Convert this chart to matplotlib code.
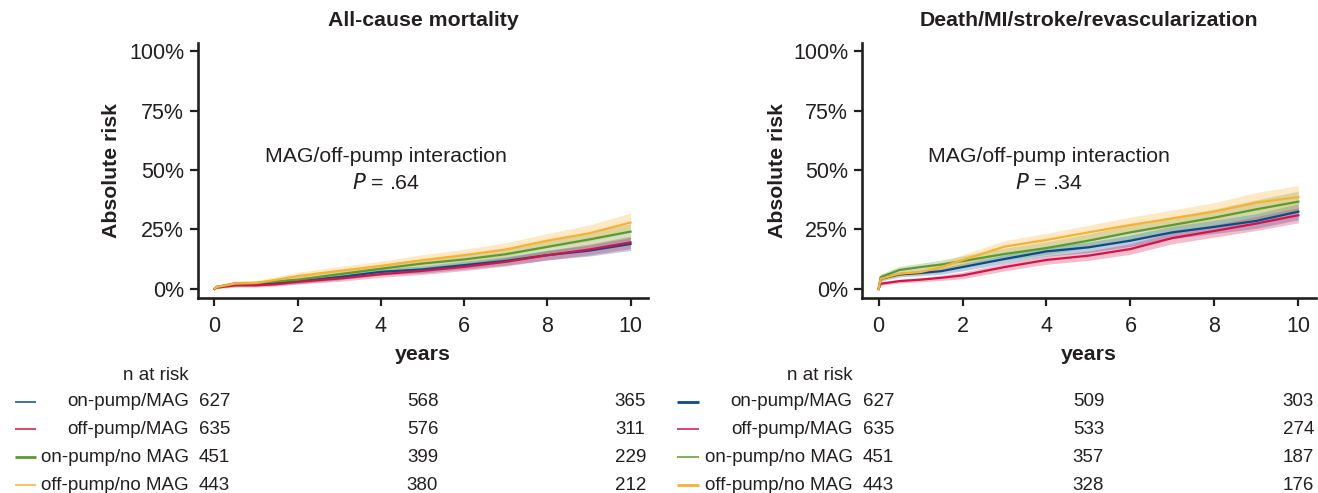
import matplotlib
matplotlib.use("Agg")
import matplotlib.pyplot as plt
import matplotlib.transforms as mtransforms
from matplotlib.lines import Line2D
import numpy as np

plt.rcParams['font.family'] = ['Liberation Sans', 'DejaVu Sans']

# ---------------- data ----------------
years = [0, 0.05, 0.5, 1, 1.5, 2, 3, 4, 5, 6, 7, 8, 9, 10]
groups = ["on-pump/MAG", "off-pump/MAG", "on-pump/no MAG", "off-pump/no MAG"]
colors = ["#0d4a8c", "#d41449", "#5a9a30", "#f8b133"]

# All-cause mortality (absolute risk, %)
mort_on_mag = [0, 0.8, 2.0, 2.0, 2.5, 3.2, 5.0, 7.2, 8.2, 10.0, 11.8, 14.2, 16.1, 18.9]
mort_off_mag = [0, 0.6, 1.5, 1.5, 2.0, 3.0, 4.4, 6.2, 7.6, 9.3, 11.4, 14.2, 16.6, 19.6]
mort_on_nomag = [0, 0.9, 2.3, 2.5, 3.2, 3.9, 6.2, 8.5, 10.7, 12.4, 14.6, 17.7, 20.8, 24.1]
mort_off_nomag = [0, 0.8, 2.3, 2.5, 3.9, 5.4, 7.6, 9.7, 12.1, 14.2, 16.6, 20.3, 23.4, 27.9]
# CI half-widths (%)
mort_ci_on_mag = [0, 0.5, 0.7, 0.7, 0.8, 1.0, 1.2, 1.4, 1.5, 1.7, 1.8, 2.0, 2.3, 2.7]
mort_ci_off_mag = [0, 0.5, 0.7, 0.7, 0.8, 1.0, 1.2, 1.3, 1.5, 1.6, 1.8, 2.0, 2.3, 2.6]
mort_ci_on_nomag = [0, 0.6, 0.9, 0.9, 1.1, 1.4, 1.6, 1.8, 2.0, 2.2, 2.4, 2.7, 3.0, 3.3]
mort_ci_off_nomag = [0, 0.6, 1.0, 1.0, 1.3, 1.6, 1.8, 2.0, 2.3, 2.5, 2.8, 3.0, 3.5, 4.0]

# Death/MI/stroke/revascularization (absolute risk, %)
mace_on_mag = [0, 4.3, 6.1, 6.7, 7.5, 9.2, 12.6, 15.8, 17.5, 20.3, 23.8, 26.1, 28.6, 32.5]
mace_off_mag = [0, 2.2, 3.3, 3.9, 4.7, 5.7, 9.2, 12.2, 14.0, 16.8, 21.4, 24.4, 27.5, 31.0]
mace_on_nomag = [0, 5.0, 8.0, 9.2, 10.3, 11.7, 14.7, 17.2, 20.3, 23.8, 26.9, 30.0, 33.5, 36.7]
mace_off_nomag = [0, 4.3, 6.4, 7.1, 9.2, 12.2, 17.8, 20.6, 23.8, 26.9, 29.7, 32.5, 36.3, 38.6]
mace_ci_on_mag = [0, 0.9, 1.0, 1.1, 1.3, 1.6, 1.8, 2.0, 2.2, 2.4, 2.6, 2.8, 3.1, 3.4]
mace_ci_off_mag = [0, 0.7, 0.8, 0.9, 1.1, 1.4, 1.6, 1.8, 2.0, 2.2, 2.4, 2.6, 2.9, 3.2]
mace_ci_on_nomag = [0, 1.3, 1.5, 1.6, 1.9, 2.2, 2.5, 2.7, 2.9, 3.1, 3.4, 3.6, 4.0, 4.4]
mace_ci_off_nomag = [0, 1.1, 1.2, 1.4, 1.8, 2.2, 2.5, 2.8, 3.0, 3.3, 3.5, 3.8, 4.3, 4.8]

# numbers at risk at years 0, 5, 10
risk_years = [0, 5, 10]
mort_at_risk = [[627, 568, 365], [635, 576, 311], [451, 399, 229], [443, 380, 212]]
mace_at_risk = [[627, 509, 303], [635, 533, 274], [451, 357, 187], [443, 328, 176]]

titles = ["All-cause mortality", "Death/MI/stroke/revascularization"]
p_texts = [".64", ".34"]
yticks = [0, 25, 50, 75, 100]
ytick_labels = ["0%", "25%", "50%", "75%", "100%"]
xticks = [0, 2, 4, 6, 8, 10]

# ---------------- figure ----------------
W, H = 1318, 493
fig = plt.figure(figsize=(W / 100, H / 100), dpi=100)


def fx(px):
    return px / W


def fy(py):
    return 1 - py / H


ax1 = fig.add_axes([fx(198), fy(298), fx(648) - fx(198), fy(43) - fy(298)])
ax2 = fig.add_axes([fx(862), fy(298), fx(1316) - fx(862), fy(43) - fy(298)])

panels = [
    (ax1, [mort_on_mag, mort_off_mag, mort_on_nomag, mort_off_nomag],
     [mort_ci_on_mag, mort_ci_off_mag, mort_ci_on_nomag, mort_ci_off_nomag],
     mort_at_risk, [1.1, 1.1, 2.0, 1.1], 4.13),
    (ax2, [mace_on_mag, mace_off_mag, mace_on_nomag, mace_off_nomag],
     [mace_ci_on_mag, mace_ci_off_mag, mace_ci_on_nomag, mace_ci_off_nomag],
     mace_at_risk, [2.0, 1.1, 1.1, 2.0], 4.05),
]

text_color = "#231f20"
t = np.array(years)
for i, (ax, series, cis, atrisk, leg_lw, ann_x) in enumerate(panels):
    for k in range(4):
        y = np.array(series[k])
        c = np.array(cis[k])
        ax.fill_between(t, y - c, y + c, color=colors[k], alpha=0.28, lw=0)
    for k in range(4):
        ax.plot(t, series[k], color=colors[k], lw=1.6, solid_joinstyle='miter')

    ax.set_xlim(-0.395, 10.42)
    ax.set_ylim(-3.8, 103.4)
    ax.set_xticks(xticks)
    ax.set_yticks(yticks)
    ax.set_yticklabels(ytick_labels)
    for s in ["top", "right"]:
        ax.spines[s].set_visible(False)
    for s in ["left", "bottom"]:
        ax.spines[s].set_linewidth(1.9)
        ax.spines[s].set_color(text_color)
    ax.tick_params(axis='both', length=6, width=1.6, color=text_color,
                   labelsize=15.5, labelcolor=text_color)
    ax.tick_params(axis='x', pad=7)
    ax.tick_params(axis='y', pad=4)

    ax.text(ann_x, 55.5, "MAG/off-pump interaction", ha='center', va='center',
            fontsize=15.3, color=text_color)
    ax.text(ann_x, 44.5, r"$\it{P}$ = " + p_texts[i], ha='center', va='center',
            fontsize=15.3, color=text_color)

    ax.text(0.5, fy(21), titles[i],
            transform=mtransforms.blended_transform_factory(ax.transAxes, fig.transFigure),
            ha='center', va='center', fontsize=15.3, fontweight='bold', color=text_color)
    ax.set_ylabel("Absolute risk", fontsize=15.3, fontweight='bold', color=text_color)
    ax.text(5.0, fy(355), "years",
            transform=mtransforms.blended_transform_factory(ax.transData, fig.transFigure),
            ha='center', va='center', fontsize=15.3, fontweight='bold', color=text_color)

    # risk table
    tr = mtransforms.blended_transform_factory(ax.transData, fig.transFigure)
    ax.text(-0.62, fy(375), "n at risk", transform=tr, ha='right', va='center',
            fontsize=13.5, color=text_color)
    row_y = [402, 429, 457, 485]
    for k in range(4):
        ax.text(-0.62, fy(row_y[k]), groups[k], transform=tr, ha='right', va='center',
                fontsize=13.5, color=text_color)
        for j, yr in enumerate(risk_years):
            ax.text(yr, fy(row_y[k]), str(atrisk[k][j]), transform=tr, ha='center', va='center',
                    fontsize=13.5, color=text_color)
        ax.add_artist(Line2D([-4.8, -4.28], [fy(row_y[k]), fy(row_y[k])], transform=tr,
                             color=colors[k], lw=leg_lw[k], clip_on=False, solid_capstyle='butt'))

# y label positions
ax1.yaxis.set_label_coords((fx(121) - fx(198)) / (fx(648) - fx(198)), 0.5)
ax2.yaxis.set_label_coords((fx(787) - fx(862)) / (fx(1316) - fx(862)), 0.5)

fig.savefig("out.png", dpi=100)
